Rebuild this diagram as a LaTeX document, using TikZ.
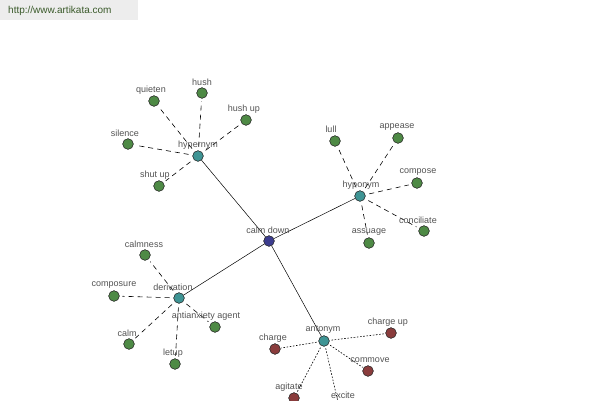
\documentclass[tikz,border=0pt]{standalone}
\usepackage{fontspec}
\setmainfont{Liberation Sans}
\definecolor{nodegreen}{HTML}{4E8A45}
\definecolor{nodeteal}{HTML}{3E9494}
\definecolor{nodenavy}{HTML}{3C3C8E}
\definecolor{nodered}{HTML}{8A3C3C}
\definecolor{urlgreen}{HTML}{3A5A2A}
\begin{document}
\begin{tikzpicture}[x=1pt,y=-1pt,
  dot/.style={circle,draw=black!80,line width=0.5pt,minimum size=10.5pt,inner sep=0pt},
  gdot/.style={dot,fill=nodegreen},
  tdot/.style={dot,fill=nodeteal},
  bdot/.style={dot,fill=nodenavy},
  rdot/.style={dot,fill=nodered},
  lbl/.style={font=\fontsize{9pt}{10pt}\selectfont,text=black!68,inner sep=0pt},
  solidline/.style={draw=black,line width=0.5pt},
  dashline/.style={draw=black,line width=0.6pt,dash pattern=on 5pt off 4pt,shorten <=4pt,shorten >=3pt},
  dotline/.style={draw=black,line width=0.6pt,dash pattern=on 1.6pt off 1.6pt,shorten <=2pt,shorten >=1pt}]
\useasboundingbox (0,0) rectangle (600,400);
\clip (0,0) rectangle (600,400);
\fill[black!7] (0,0) rectangle (138,20);
\node[font=\fontsize{10pt}{11pt}\selectfont,text=urlgreen,anchor=west,inner sep=0pt] (url) at (8,11) {http://www.artikata.com};

% hubs
\node[bdot] (cd) at (269,241) {};
\node[tdot] (hyper) at (198,156) {};
\node[tdot] (hypo) at (360,196) {};
\node[tdot] (deriv) at (179,298) {};
\node[tdot] (anto) at (324,341) {};

% hypernym children
\node[gdot] (quieten) at (154,101) {};
\node[gdot] (hush) at (202,93) {};
\node[gdot] (hushup) at (246,120) {};
\node[gdot] (silence) at (128,144) {};
\node[gdot] (shutup) at (159,186) {};
% hyponym children
\node[gdot] (lull) at (335,141) {};
\node[gdot] (appease) at (398,138) {};
\node[gdot] (compose) at (417,183) {};
\node[gdot] (conciliate) at (424,231) {};
\node[gdot] (assuage) at (369,243) {};
% derivation children
\node[gdot] (calmness) at (145,255) {};
\node[gdot] (composure) at (114,296) {};
\node[gdot] (calm) at (129,344) {};
\node[gdot] (letup) at (175,364) {};
\node[gdot] (anxagent) at (215,327) {};
% antonym children
\node[rdot] (charge) at (275,349) {};
\node[rdot] (chargeup) at (391,333) {};
\node[rdot] (commove) at (368,371) {};
\node[rdot] (agitate) at (294,398) {};
\node[rdot] (excite) at (340,411) {};

% connectors
\path[solidline] (cd) -- (hyper);
\path[solidline] (cd) -- (hypo);
\path[solidline] (cd) -- (deriv);
\path[solidline] (cd) -- (anto);
\foreach \n in {quieten,hush,hushup,silence,shutup} \path[dashline] (hyper) -- (\n);
\foreach \n in {lull,appease,compose,conciliate,assuage} \path[dashline] (hypo) -- (\n);
\foreach \n in {calmness,composure,calm,letup,anxagent} \path[dashline] (deriv) -- (\n);
\foreach \n in {charge,chargeup,commove,agitate,excite} \path[dotline] (anto) -- (\n);

% redraw dots on top
\foreach \n/\s in {cd/bdot,hyper/tdot,hypo/tdot,deriv/tdot,anto/tdot} \node[\s] at (\n) {};
\foreach \n in {quieten,hush,hushup,silence,shutup,lull,appease,compose,conciliate,assuage,calmness,composure,calm,letup,anxagent} \node[gdot] at (\n) {};
\foreach \n in {charge,chargeup,commove,agitate,excite} \node[rdot] at (\n) {};

% labels
\node[lbl] (l-cd) at (268,230) {calm down};
\node[lbl] (l-hyper) at (198,145) {hypernym};
\node[lbl] (l-hypo) at (361,185) {hyponym};
\node[lbl] (l-deriv) at (173,287) {derivation};
\node[lbl] (l-anto) at (323,330) {antonym};
\node[lbl] (l-quieten) at (151,90) {quieten};
\node[lbl] (l-hush) at (202,82) {hush};
\node[lbl] (l-hushup) at (244,109) {hush up};
\node[lbl] (l-silence) at (125,133) {silence};
\node[lbl] (l-shutup) at (155,175) {shut up};
\node[lbl] (l-lull) at (331,129) {lull};
\node[lbl] (l-appease) at (397,127) {appease};
\node[lbl] (l-compose) at (418,172) {compose};
\node[lbl] (l-conciliate) at (418,220) {conciliate};
\node[lbl] (l-assuage) at (369,232) {assuage};
\node[lbl] (l-calmness) at (144,244) {calmness};
\node[lbl] (l-composure) at (114,285) {composure};
\node[lbl] (l-calm) at (127,333) {calm};
\node[lbl] (l-letup) at (173,353) {letup};
\node[lbl] (l-anx) at (206,316) {antianxiety agent};
\node[lbl] (l-charge) at (273,338) {charge};
\node[lbl] (l-chargeup) at (388,322) {charge up};
\node[lbl] (l-commove) at (370,360) {commove};
\node[lbl] (l-agitate) at (289,387) {agitate};
\node[lbl] (l-excite) at (343,395) {excite};
\end{tikzpicture}
\end{document}
